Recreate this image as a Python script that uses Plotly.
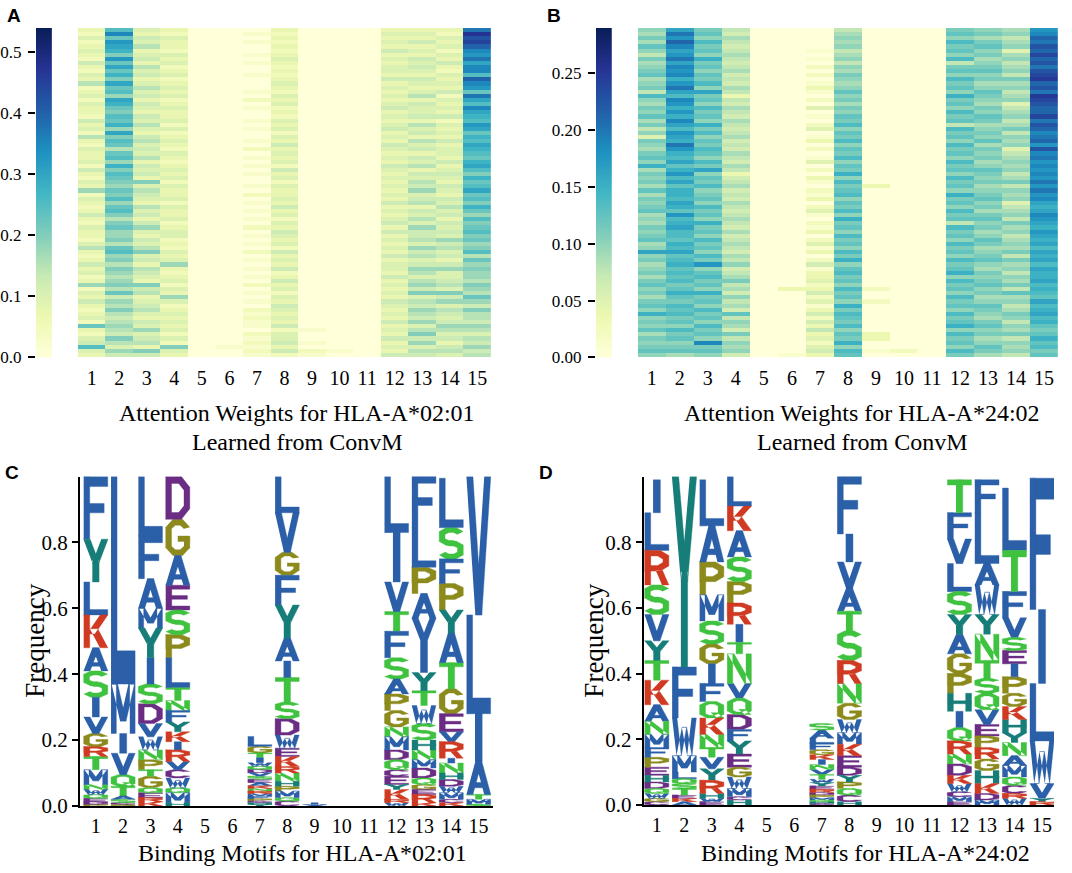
import plotly.graph_objects as go

positions = list(range(1, 16))

# attention weights, one string per peptide position, one base-36 level per peptide row (top row first)
attn_a_unit = 0.025
attn_a_max = 0.54
attn_a_cols = [
    "3242343253" "2436234243" "3253426324" "3342532437" "2432353243" "3246323534" "2372435323" "4293245a43",
    "ae9dcb8d9c" "9b8c9a7cb9" "8a9b7c8a96" "9a7b8a9879" "8a79a86897" "7869a78687" "6786957686" "5676586475",
    "4354634536" "4534645354" "3546435645" "4635453846" "5436453574" "3546845365" "4385634564" "3547456385",
    "3243324342" "3423434234" "3342423432" "4323434243" "3424334234" "4232434732" "3424374234" "3434242843",
    "0000000000" "0000000000" "0000000000" "0000000000" "0000000000" "0000000000" "0000000000" "0000000000",
    "0000000000" "0000000000" "0000000000" "0000000000" "0000000000" "0000000000" "0000000000" "0000000100",
    "0101001010" "0100010201" "0010100102" "0101010010" "2010101020" "1010201010" "1020101021" "2110212121",
    "3232323432" "3234324342" "3243424353" "4342534243" "3435342435" "4342534352" "3534243543" "4352445352",
    "0000000000" "0000000000" "0000000000" "0000000000" "0000000000" "0000000000" "0000000000" "0001001021",
    "0000000000" "0000000000" "0000000000" "0000000000" "0000000000" "0000000000" "0000000000" "0000000010",
    "0000000000" "0000000000" "0000000000" "0000000000" "0000000000" "0000000000" "0000000000" "0000000000",
    "3434353434" "4353434345" "3434534354" "3435434343" "4353434535" "3434353443" "5343435434" "3534353435",
    "3435343545" "4354346354" "4536453645" "3546354657" "4563546475" "5647564576" "4675846576" "5746857465",
    "3243424353" "2434352434" "3524343534" "4353454354" "3546453545" "4756453574" "4564857465" "4576453564",
    "fjhigedfce" "eaged9fcae" "cbadc9bacb" "a9bca8b9ac" "9a8b97a89a" "8978a69787" "7687697586" "6576465756",
]
attn_a_ticks = [0.0, 0.1, 0.2, 0.3, 0.4, 0.5]

attn_b_unit = 0.0125
attn_b_max = 0.29
attn_b_cols = [
    "8797a86978" "9a7896b879" "8a79684987" "9a8c79897a" "7989a78798" "9a78d89789" "79a8979a8c" "898a7989a8",
    "dgehfdegdf" "efcegdbfec" "ecfdbedcge" "cbdacebdac" "cbdcaebcdb" "bacbdabcab" "ab9aca9bab" "9a8b9a89a7",
    "9a8b9a8c9a" "8a9b8d9a8b" "9a8c9b8a9b" "a8b9d8a9b8" "9a8b9a8c9a" "8b9a8b9e8a" "b9a8c9a8b9" "a8b9a8f9a8",
    "6576567656" "7565763657" "6576567565" "7657635675" "6576567657" "5676576856" "796758675a" "6875968785",
    "0000000000" "0000000000" "0000000000" "0000000000" "0000000000" "0000000000" "0000000000" "0000000000",
    "0000000000" "0000000000" "0000000000" "0000000000" "0000000000" "0000000000" "0003000000" "0000000001",
    "0000010102" "0201310204" "0102401302" "0140203102" "1302410213" "0241302513" "3423524135" "2536342453",
    "6787867868" "79878a8979" "8a9b8a9b8a" "9b8a9c8b9a" "b8a9b8c9a8" "b9a8b9c8ab" "9a8b9a8c9b" "a9b8a9c8ba",
    "0000000000" "0000000000" "0000000000" "0000000030" "0000000000" "0000000000" "0002002000" "0000330010",
    "0000000000" "0000000000" "0000000000" "0000000000" "0000000000" "0000000000" "0000000000" "0000000020",
    "0000000000" "0000000000" "0000000000" "0000000000" "0000000000" "0000000000" "0000000000" "0000000000",
    "9a8b9a8b69" "a8b9a8c9a8" "b9a6b9a8b9" "a8b9a8b9a8" "c9a8b9a6b9" "a8b9a8b9ac" "8b9a8b9a8b" "9ac8b9a8b9",
    "8979a89789" "a8978a9879" "8a97898a79" "8978a98978" "9a8979a897" "8a9789a879" "89a8978a98" "79a8978a97",
    "7867847867" "8697867846" "7867968784" "6787867968" "7846786978" "6787969786" "8796a78679" "8687968786",
    "efhgihjhig" "ijkhigkjih" "hjgihfghei" "fgefefegeg" "efdcdfedce" "dcdbdcdbdc" "cdbcbadbcd" "bca9acab9a",
]
attn_b_ticks = [0.0, 0.05, 0.10, 0.15, 0.20, 0.25]

# binding motifs: letters of each position from the top of the stack down, with their frequencies
motif_a_letters = ["FYLKASIVGRTMNWQEDP", "LMIVQTASCG", "LFAMYISDVWNPTGQERK", "DGAESPLTNFYKIRVCWQMH",
                   "", "", "LGTIWQDVSEAKNRMFPCHY", "LVGFYAITSDWEKRNHPMQC", "IV", "", "",
                   "LIVTFSAPGNMDQCEYKRW", "FLPAVIYTWSHNMDQGERK", "LSFPYATGEVRINHDWMCK", "VLIATMS"]
motif_a_freqs = [
    [0.19, 0.13, 0.10, 0.10, 0.07, 0.08, 0.06, 0.05, 0.04, 0.03, 0.04, 0.045, 0.015, 0.015, 0.012, 0.01, 0.008, 0.005],
    [0.63, 0.15, 0.06, 0.065, 0.035, 0.03, 0.01, 0.01, 0.005, 0.005],
    [0.18, 0.13, 0.09, 0.06, 0.09, 0.08, 0.06, 0.06, 0.04, 0.04, 0.03, 0.03, 0.02, 0.035, 0.015, 0.015, 0.012, 0.013],
    [0.13, 0.11, 0.09, 0.075, 0.075, 0.07, 0.09, 0.04, 0.03, 0.035, 0.03, 0.03, 0.025, 0.035, 0.025, 0.025, 0.03, 0.015, 0.03, 0.01],
    [],
    [],
    [0.03, 0.02, 0.015, 0.015, 0.01, 0.01, 0.01, 0.01, 0.01, 0.01, 0.01, 0.008, 0.008, 0.008, 0.008, 0.007, 0.007, 0.005, 0.005, 0.005],
    [0.11, 0.12, 0.07, 0.09, 0.10, 0.07, 0.05, 0.075, 0.05, 0.05, 0.04, 0.025, 0.03, 0.02, 0.025, 0.015, 0.015, 0.02, 0.01, 0.015],
    [0.006, 0.004],
    [],
    [],
    [0.17, 0.15, 0.09, 0.06, 0.08, 0.065, 0.045, 0.05, 0.05, 0.03, 0.04, 0.03, 0.03, 0.02, 0.025, 0.015, 0.03, 0.01, 0.01],
    [0.16, 0.12, 0.08, 0.075, 0.07, 0.095, 0.055, 0.045, 0.055, 0.05, 0.03, 0.03, 0.025, 0.03, 0.02, 0.015, 0.015, 0.025, 0.01],
    [0.15, 0.095, 0.075, 0.08, 0.07, 0.09, 0.08, 0.075, 0.055, 0.03, 0.05, 0.015, 0.03, 0.02, 0.02, 0.02, 0.02, 0.01, 0.01],
    [0.42, 0.30, 0.145, 0.10, 0.015, 0.015, 0.005],
]

motif_b_letters = ["ILRSVYTKANMFPEHDQWGC", "YFWMLQSTEKA", "LAPMSGIFQKNTVYRHWE", "LKASPRITNVQDFYEGWMCH",
                   "", "", "SALFGKINVTWYERDPMQHC", "FIVATSRNGWMKEDYPQCH", "", "", "",
                   "TFVLSYAGPHIQRNDKWCME", "FLAWYNTSQVEPRGHKDM", "LTFVSEIPGKHYNAMQCRW", "FILWVYR"]
motif_b_freqs = [
    [0.10, 0.115, 0.105, 0.09, 0.08, 0.06, 0.06, 0.075, 0.05, 0.04, 0.04, 0.03, 0.03, 0.025, 0.02, 0.02, 0.015, 0.015, 0.01, 0.01],
    [0.58, 0.155, 0.115, 0.05, 0.02, 0.015, 0.015, 0.02, 0.01, 0.01, 0.01],
    [0.14, 0.11, 0.10, 0.08, 0.07, 0.06, 0.06, 0.055, 0.05, 0.05, 0.04, 0.03, 0.035, 0.035, 0.04, 0.015, 0.01, 0.01],
    [0.09, 0.075, 0.08, 0.075, 0.065, 0.065, 0.055, 0.035, 0.09, 0.045, 0.05, 0.045, 0.035, 0.04, 0.04, 0.03, 0.035, 0.025, 0.01, 0.015],
    [],
    [],
    [0.02, 0.025, 0.015, 0.02, 0.015, 0.015, 0.015, 0.015, 0.015, 0.015, 0.01, 0.01, 0.01, 0.01, 0.008, 0.008, 0.007, 0.005, 0.005, 0.005],
    [0.18, 0.085, 0.08, 0.07, 0.06, 0.09, 0.07, 0.06, 0.05, 0.04, 0.035, 0.035, 0.035, 0.025, 0.02, 0.02, 0.02, 0.02, 0.01],
    [],
    [],
    [],
    [0.10, 0.08, 0.075, 0.085, 0.07, 0.06, 0.06, 0.06, 0.06, 0.055, 0.05, 0.04, 0.04, 0.03, 0.035, 0.025, 0.025, 0.015, 0.015, 0.01],
    [0.10, 0.155, 0.065, 0.09, 0.06, 0.08, 0.055, 0.045, 0.05, 0.045, 0.035, 0.035, 0.035, 0.035, 0.04, 0.03, 0.02, 0.015],
    [0.19, 0.125, 0.08, 0.06, 0.04, 0.04, 0.04, 0.05, 0.04, 0.04, 0.04, 0.03, 0.04, 0.03, 0.035, 0.025, 0.025, 0.015, 0.02],
    [0.40, 0.225, 0.175, 0.13, 0.045, 0.01, 0.01],
]
freq_ticks = [0.0, 0.2, 0.4, 0.6, 0.8]

YLGNBU = ["#ffffd9", "#edf8b1", "#c7e9b4", "#7fcdbb", "#41b6c4", "#1d91c0", "#225ea8", "#253494", "#081d58"]
COLORSCALE = [[i / (len(YLGNBU) - 1), c] for i, c in enumerate(YLGNBU)]

BLUE, TEAL, RED, PURPLE, OLIVE, GREEN = "#2b5fa8", "#177d78", "#d03a22", "#6b2d84", "#8c8a1c", "#3fc23f"
AA_COLORS = {}
for aa in "AFILMVW":
    AA_COLORS[aa] = BLUE
for aa in "YH":
    AA_COLORS[aa] = TEAL
for aa in "KR":
    AA_COLORS[aa] = RED
for aa in "DEC":
    AA_COLORS[aa] = PURPLE
for aa in "GP":
    AA_COLORS[aa] = OLIVE
for aa in "STNQ":
    AA_COLORS[aa] = GREEN

SERIF = "Liberation Serif"
W = 1072
H_REF = 873      # positions below are measured in a 1072x873 picture
H_PAGE = 886     # the photograph squeezes the page a little vertically


# ---- simple block glyphs in a unit box ----
def rect(x0, y0, x1, y1):
    return [(x0, y0), (x1, y0), (x1, y1), (x0, y1)]


def stroke(xa, ya, xb, yb, w):
    return [(xa - w / 2, ya), (xa + w / 2, ya), (xb + w / 2, yb), (xb - w / 2, yb)]


def octagon(x0, y0, x1, y1, cx, cy):
    return [(x0 + cx, y0), (x1 - cx, y0), (x1, y0 + cy), (x1, y1 - cy),
            (x1 - cx, y1), (x0 + cx, y1), (x0, y1 - cy), (x0, y0 + cy)]


def dshape(x0, y0, x1, y1, cx, cy):
    return [(x0, y0), (x1 - cx, y0), (x1, y0 + cy), (x1, y1 - cy), (x1 - cx, y1), (x0, y1)]


def band(outer, inner, segs):
    n = len(outer)
    return [[outer[i], outer[(i + 1) % n], inner[(i + 1) % n], inner[i]] for i in segs]


def oring(x0, y0, x1, y1, segs, tx=0.24, ty=0.16):
    w, h = x1 - x0, y1 - y0
    outer = octagon(x0, y0, x1, y1, 0.3 * w, 0.22 * h)
    inner = octagon(x0 + tx, y0 + ty, x1 - tx, y1 - ty, 0.16 * w, 0.1 * h)
    return band(outer, inner, segs)


def dring(x0, y0, x1, y1, tx=0.24, ty=0.16):
    w, h = x1 - x0, y1 - y0
    outer = dshape(x0, y0, x1, y1, 0.35 * w, 0.25 * h)
    inner = dshape(x0 + tx, y0 + ty, x1 - tx, y1 - ty, 0.22 * w, 0.16 * h)
    return band(outer, inner, range(6))


def glyph(aa):
    stem = rect(0, 0, 0.25, 1)
    if aa == "A":
        return [stroke(0.13, 0, 0.5, 1, 0.27), stroke(0.87, 0, 0.5, 1, 0.27), rect(0.25, 0.2, 0.75, 0.36)]
    if aa == "C":
        return oring(0, 0, 1, 1, [0, 1, 3, 4, 5, 6, 7])
    if aa == "D":
        return dring(0, 0, 1, 1)
    if aa == "E":
        return [stem, rect(0, 0.84, 1, 1), rect(0, 0.43, 0.9, 0.58), rect(0, 0, 1, 0.16)]
    if aa == "F":
        return [stem, rect(0, 0.84, 1, 1), rect(0, 0.42, 0.85, 0.57)]
    if aa == "G":
        return oring(0, 0, 1, 1, [0, 1, 3, 4, 5, 6, 7]) + [rect(0.76, 0.2, 1, 0.5), rect(0.5, 0.39, 1, 0.54)]
    if aa == "H":
        return [stem, rect(0.75, 0, 1, 1), rect(0, 0.42, 1, 0.58)]
    if aa == "I":
        return [rect(0.35, 0, 0.65, 1)]
    if aa == "K":
        return [stem, stroke(0.3, 0.42, 0.84, 1, 0.33), stroke(0.42, 0.58, 0.84, 0, 0.33)]
    if aa == "L":
        return [stem, rect(0, 0, 1, 0.16)]
    if aa == "M":
        return [rect(0, 0, 0.22, 1), rect(0.78, 0, 1, 1),
                stroke(0.15, 1, 0.5, 0.25, 0.25), stroke(0.85, 1, 0.5, 0.25, 0.25)]
    if aa == "N":
        return [rect(0, 0, 0.23, 1), rect(0.77, 0, 1, 1), stroke(0.15, 1, 0.85, 0, 0.27)]
    if aa == "P":
        return [stem] + dring(0, 0.4, 1, 1)
    if aa == "Q":
        return oring(0, 0, 1, 1, range(8)) + [stroke(0.6, 0.32, 0.86, 0, 0.27)]
    if aa == "R":
        return [stem] + dring(0, 0.4, 1, 1) + [stroke(0.6, 0.42, 0.86, 0, 0.28)]
    if aa == "S":
        return oring(0, 0.43, 1, 1, [0, 3, 4, 5, 6, 7]) + oring(0, 0, 1, 0.57, [0, 1, 2, 3, 4, 7])
    if aa == "T":
        return [rect(0, 0.84, 1, 1), rect(0.36, 0, 0.64, 1)]
    if aa == "V":
        return [stroke(0.13, 1, 0.5, 0, 0.27), stroke(0.87, 1, 0.5, 0, 0.27)]
    if aa == "W":
        return [stroke(0.1, 1, 0.28, 0, 0.2), stroke(0.28, 0, 0.5, 0.75, 0.2),
                stroke(0.5, 0.75, 0.72, 0, 0.2), stroke(0.72, 0, 0.9, 1, 0.2)]
    if aa == "Y":
        return [stroke(0.13, 1, 0.5, 0.45, 0.28), stroke(0.87, 1, 0.5, 0.45, 0.28), rect(0.36, 0, 0.64, 0.5)]
    return [rect(0, 0, 1, 1)]


def logo_traces(letters, freqs, xref, yref):
    groups = {}
    for pos, seq, hs in zip(positions, letters, freqs):
        base = 0.0
        for aa, h in zip(reversed(seq), reversed(hs)):
            xs, ys = groups.setdefault(AA_COLORS[aa], ([], []))
            for poly in glyph(aa):
                for px, py in poly:
                    xs.append(pos - 0.44 + 0.88 * px)
                    ys.append(base + h * py)
                xs.append(None)
                ys.append(None)
            base += h
    return [go.Scatter(x=xs, y=ys, mode="lines", fill="toself", fillcolor=c,
                       line=dict(width=0.4, color=c), hoverinfo="skip", showlegend=False,
                       xaxis=xref, yaxis=yref)
            for c, (xs, ys) in groups.items()]


def attn_matrix(cols, unit):
    assert all(len(c) == len(cols[0]) for c in cols)
    return [[int(c[r], 36) * unit for c in cols] for r in range(len(cols[0]))]


def px_dom(a, b):
    return [a / W, b / W]


def py_dom(top, bottom):
    return [1 - bottom / H_REF, 1 - top / H_REF]


def py(y):
    return 1 - y / H_REF


fig = go.Figure()

# heatmaps
for cols, unit, zmax, xr, yr in [(attn_a_cols, attn_a_unit, attn_a_max, "x", "y"),
                                 (attn_b_cols, attn_b_unit, attn_b_max, "x3", "y3")]:
    z = attn_matrix(cols, unit)
    fig.add_trace(go.Heatmap(z=z, x=positions, y=list(range(len(z))), colorscale=COLORSCALE,
                             zmin=0, zmax=zmax, showscale=False, hoverinfo="skip",
                             xaxis=xr, yaxis=yr))

# colour bars drawn as thin heatmaps so their ticks sit on the left
for zmax, xr, yr in [(attn_a_max, "x2", "y2"), (attn_b_max, "x4", "y4")]:
    grad = [zmax * i / 200 for i in range(201)]
    fig.add_trace(go.Heatmap(z=[[g] for g in grad], x=[0], y=grad, colorscale=COLORSCALE,
                             zmin=0, zmax=zmax, showscale=False, hoverinfo="skip",
                             xaxis=xr, yaxis=yr))

for tr in logo_traces(motif_a_letters, motif_a_freqs, "x5", "y5"):
    fig.add_trace(tr)
for tr in logo_traces(motif_b_letters, motif_b_freqs, "x6", "y6"):
    fig.add_trace(tr)

tick_font = dict(family=SERIF, size=20, color="black")
heat_x = dict(range=[0.5, 15.5], tickvals=positions, ticks="", ticklen=0, showline=False, showgrid=False,
              zeroline=False, tickfont=tick_font, ticklabelstandoff=7)
heat_y = dict(autorange="reversed", visible=False)
cbar_x = dict(visible=False, range=[-0.5, 0.5])
cbar_y = dict(side="left", ticks="outside", ticklen=7, tickwidth=2, tickcolor="black", showline=False,
              showgrid=False, zeroline=False, tickfont=dict(family=SERIF, size=17, color="black"),
              ticklabelstandoff=3)
logo_x = dict(tickvals=positions, ticks="", ticklen=0, showline=True, linewidth=2, linecolor="black",
              showgrid=False, zeroline=False, tickfont=tick_font, ticklabelstandoff=1)
logo_y = dict(range=[0, 1.0], tickvals=freq_ticks, tickformat=".1f", ticks="outside", ticklen=6,
              tickwidth=2, tickcolor="black", showline=True, linewidth=2, linecolor="black",
              showgrid=False, zeroline=False, tickfont=dict(family=SERIF, size=21, color="black"))

fig.update_layout(
    width=W, height=H_PAGE, margin=dict(l=0, r=0, t=0, b=0),
    paper_bgcolor="white", plot_bgcolor="white", showlegend=False,
    xaxis=dict(heat_x, domain=px_dom(76, 490), anchor="y"),
    yaxis=dict(heat_y, domain=py_dom(28, 357), anchor="x"),
    xaxis2=dict(cbar_x, domain=px_dom(34, 50), anchor="y2"),
    yaxis2=dict(cbar_y, domain=py_dom(28, 357), anchor="x2", range=[0, attn_a_max],
                tickvals=attn_a_ticks, tickformat=".1f"),
    xaxis3=dict(heat_x, domain=px_dom(637, 1058), anchor="y3"),
    yaxis3=dict(heat_y, domain=py_dom(28, 357), anchor="x3"),
    xaxis4=dict(cbar_x, domain=px_dom(595, 611), anchor="y4"),
    yaxis4=dict(cbar_y, domain=py_dom(28, 357), anchor="x4", range=[0, attn_b_max],
                tickvals=attn_b_ticks, tickformat=".2f"),
    xaxis5=dict(logo_x, domain=px_dom(78, 492), anchor="y5", range=[0.42, 15.53]),
    yaxis5=dict(logo_y, domain=py_dom(476, 805), anchor="x5"),
    xaxis6=dict(logo_x, domain=px_dom(643, 1054), anchor="y6", range=[0.53, 15.44]),
    yaxis6=dict(logo_y, domain=py_dom(476, 804), anchor="x6"),
)

for text, x, y in [("A", 12, 15), ("B", 553, 15), ("C", 10, 472), ("D", 545, 472)]:
    fig.add_annotation(text="<b>%s</b>" % text, x=x / W, y=py(y), xref="paper", yref="paper",
                       xanchor="center", yanchor="middle", showarrow=False,
                       font=dict(family="Liberation Sans", size=19, color="black"))

label_font = dict(family=SERIF, size=24, color="black")
for text, x, y in [("Attention Weights for HLA-A*02:01", 296, 413), ("Learned from ConvM", 296, 441),
                   ("Attention Weights for HLA-A*24:02", 862, 413), ("Learned from ConvM", 862, 441),
                   ("Binding Motifs for HLA-A*02:01", 301, 852), ("Binding Motifs for HLA-A*24:02", 865, 852)]:
    fig.add_annotation(text=text, x=x / W, y=py(y), xref="paper", yref="paper",
                       xanchor="center", yanchor="middle", showarrow=False, font=label_font)

for x in (33, 593):
    fig.add_annotation(text="Frequency", x=x / W, y=py(640), xref="paper", yref="paper",
                       xanchor="center", yanchor="middle", showarrow=False, textangle=-90,
                       font=dict(family=SERIF, size=27, color="black"))

fig.write_html("out.html", config={"displayModeBar": False},
               post_script="document.body.style.margin='0';")
